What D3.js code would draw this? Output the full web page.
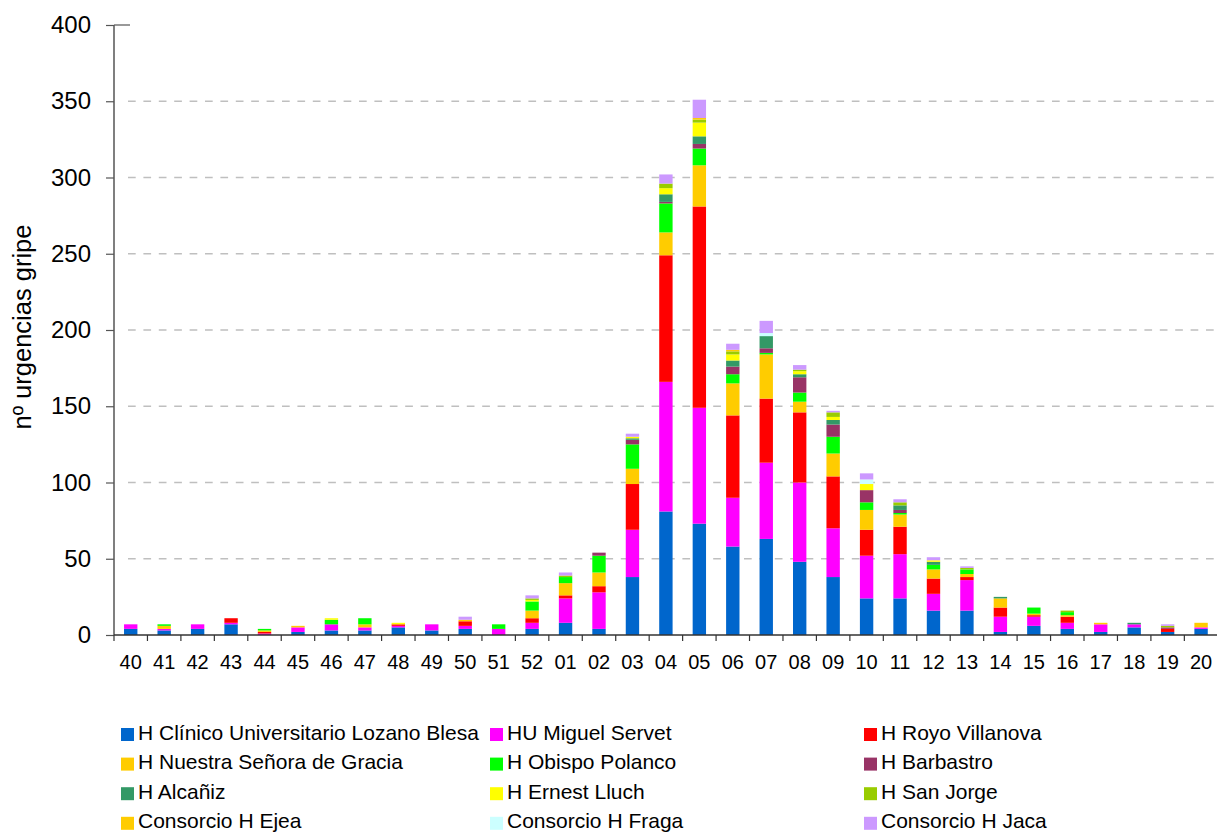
<!DOCTYPE html>
<html>
<head>
<meta charset="utf-8">
<script src="https://d3js.org/d3.v7.min.js"></script>
<style>
  body { margin: 0; background: #fff; }
  svg { display: block; font-family: "Liberation Sans", Arial, sans-serif; }
</style>
</head>
<body>
<svg width="1217" height="832"></svg>
<script>
// semanas epidemiológicas
const weeks = ["40","41","42","43","44","45","46","47","48","49","50","51","52",
  "01","02","03","04","05","06","07","08","09","10","11","12","13","14","15","16","17","18","19","20"];

// urgencias por hospital y semana
const clinico   = [4,3,4,7,0,2,3,3,5,3,4,0,4, 8,4,38,81,73,58,63,48,38,24,24,16,16,2,6,4,2,5,2,4];
const servet    = [3,1,3,1,1,3,4,2,1,4,2,4,4, 16,24,31,85,76,32,50,52,32,28,29,11,20,10,6,4,5,2,0,1];
const royo      = [0,0,0,3,1,0,0,0,1,0,3,0,3, 2,4,30,83,132,54,42,46,34,17,18,10,2,6,1,4,0,0,2,0];
const nsGracia  = [0,2,0,0,1,1,0,2,0,0,1,0,5, 8,9,10,15,27,21,29,7,15,13,8,6,2,6,1,1,1,0,0,3];
const obispo    = [0,1,0,0,1,0,3,4,0,0,0,3,6, 4,11,16,19,11,6,1,6,11,5,1,3,3,0,4,2,0,0,0,0];
const barbastro = [0,0,0,0,0,0,0,0,0,0,0,0,0, 0,2,3,1,3,5,3,10,8,8,2,0,0,0,0,0,0,0,1,0];
const alcaniz   = [0,0,0,0,0,0,0,0,0,0,0,0,0, 0,0,1,5,5,4,8,2,3,0,3,2,0,1,0,0,0,1,0,0];
const ernest    = [0,0,0,0,0,0,1,0,1,0,0,0,1, 0,0,1,4,9,4,0,2,2,4,0,1,0,0,0,0,0,0,0,0];
const sanJorge  = [0,0,0,0,0,0,0,0,0,0,0,0,1, 1,0,0,3,2,2,0,1,3,0,2,0,1,0,0,1,0,0,1,0];
const ejea      = [0,0,0,0,0,0,0,0,0,0,0,0,0, 0,0,0,0,1,1,0,0,0,0,0,0,0,0,0,0,0,0,0,0];
const fraga     = [0,0,0,0,0,0,0,0,0,0,0,0,0, 0,0,0,0,0,0,2,0,0,3,0,0,0,0,0,0,0,0,0,0];
const jaca      = [0,0,0,0,0,0,0,0,0,0,2,0,2, 2,0,2,6,12,4,8,3,1,4,2,2,1,0,0,0,0,0,1,0];

const seriesNames = ["H Clínico Universitario Lozano Blesa","HU Miguel Servet","H Royo Villanova",
  "H Nuestra Señora de Gracia","H Obispo Polanco","H Barbastro",
  "H Alcañiz","H Ernest Lluch","H San Jorge",
  "Consorcio H Ejea","Consorcio H Fraga","Consorcio H Jaca"];
const seriesValues = [clinico, servet, royo, nsGracia, obispo, barbastro,
  alcaniz, ernest, sanJorge, ejea, fraga, jaca];
const seriesColors = ["#0066CC","#FF00FF","#FF0000","#FFCC00","#00FF00","#993366",
  "#339966","#FFFF00","#99CC00","#FFCC00","#CCFFFF","#CC99FF"];
const yTicks = [0,50,100,150,200,250,300,350,400];

const svg = d3.select("svg");
const plotLeft = 114, plotRight = 1217.8, plotTop = 25, plotBottom = 635;

// tabla para d3.stack
const table = weeks.map((w, i) => {
  const row = {week: w};
  seriesNames.forEach((n, k) => { row[n] = seriesValues[k][i]; });
  return row;
});
const stacked = d3.stack().keys(seriesNames)(table);

const x = d3.scaleBand().domain(weeks).range([plotLeft, plotRight])
  .paddingInner(0.6).paddingOuter(0.3);
const y = d3.scaleLinear().domain([0, 400]).range([plotBottom, plotTop]);
const color = d3.scaleOrdinal().domain(seriesNames).range(seriesColors);

// gridlines
svg.append("g").selectAll("line")
  .data(yTicks.filter(t => t > 0 && t < 400))
  .join("line")
  .attr("x1", 128).attr("x2", plotRight)
  .attr("y1", d => y(d)).attr("y2", d => y(d))
  .attr("stroke", "#BFBFBF").attr("stroke-width", 1.3)
  .attr("stroke-dasharray", "7.7 7.7");

// bars
svg.append("g").selectAll("g")
  .data(stacked)
  .join("g")
  .attr("fill", d => color(d.key))
  .selectAll("rect")
  .data(d => d)
  .join("rect")
  .attr("x", d => x(d.data.week))
  .attr("width", x.bandwidth())
  .attr("y", d => y(d[1]))
  .attr("height", d => y(d[0]) - y(d[1]));

// y axis
const yAxis = svg.append("g").attr("transform", `translate(${plotLeft},0)`)
  .call(d3.axisLeft(y).tickValues(yTicks).tickSize(8).tickPadding(15));
yAxis.select(".domain").attr("stroke", "#555").attr("stroke-width", 1.5).attr("d", `M0,${plotTop}V${plotBottom}`);
yAxis.selectAll(".tick line").attr("stroke", "#555").attr("stroke-width", 1.2);
yAxis.selectAll(".tick text").attr("font-size", 24).attr("fill", "#000")
  .attr("font-family", "'Liberation Sans', Arial, sans-serif");
svg.append("line").attr("x1", plotLeft).attr("x2", 130).attr("y1", y(400)).attr("y2", y(400))
  .attr("stroke", "#555").attr("stroke-width", 1.2);

// x axis
const xAxis = svg.append("g").attr("transform", `translate(0,${plotBottom})`)
  .call(d3.axisBottom(x).tickSize(0).tickPadding(20));
xAxis.select(".domain").attr("stroke", "#333").attr("stroke-width", 1.5).attr("d", `M${plotLeft},0H${plotRight}`);
xAxis.selectAll(".tick text").attr("font-size", 20).attr("fill", "#000")
  .attr("font-family", "'Liberation Sans', Arial, sans-serif");
xAxis.append("g").selectAll("line")
  .data(weeks)
  .join("line")
  .attr("x1", (d) => x(d) - x.step() * 0.3).attr("x2", (d) => x(d) - x.step() * 0.3)
  .attr("y1", 0).attr("y2", 6)
  .attr("stroke", "#333").attr("stroke-width", 1.2);

// y title
svg.append("text")
  .attr("transform", "translate(31,327) rotate(-90)")
  .attr("text-anchor", "middle")
  .attr("font-size", 25.5)
  .text("nº urgencias gripe");

// legend
const legend = svg.append("g");
const colX = [121, 490, 864];
seriesNames.forEach((n, k) => {
  const col = k % 3, row = Math.floor(k / 3);
  const base = 739.5 + row * 29.6;
  legend.append("rect")
    .attr("x", colX[col]).attr("y", base - 11.5)
    .attr("width", 13).attr("height", 13)
    .attr("fill", seriesColors[k]);
  legend.append("text")
    .attr("x", colX[col] + 17).attr("y", base)
    .attr("font-size", 21)
    .text(n);
});
</script>
</body>
</html>
